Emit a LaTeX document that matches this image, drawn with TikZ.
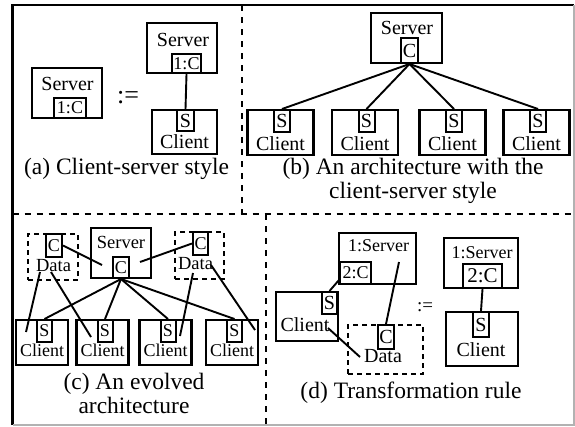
\documentclass[tikz,border=0pt]{standalone}
\usepackage{fontspec}
\setmainfont{Liberation Serif}
\usetikzlibrary{calc,positioning}

\newcommand{\fs}[1]{\fontsize{#1}{#1}\selectfont}

\begin{document}
\begin{tikzpicture}[x=1pt,y=-1pt,
  box/.style={draw,line width=2.4pt,inner sep=0pt},
  dbox/.style={box,line width=2pt,dash pattern=on 5pt off 4pt},
  port/.style={draw,line width=2pt,inner sep=0pt,font=\fs{18}},
  lbl/.style={inner sep=0pt,font=\fs{20}},
  caption/.style={inner sep=0pt,align=center,anchor=base,font=\fontsize{23.5}{23.5}\selectfont},
  wire/.style={line width=1.9pt},
  sep/.style={line width=1.6pt,dash pattern=on 6pt off 6pt}]
\useasboundingbox (0,0) rectangle (575,426);

% Rahmen und Trennlinien
\draw[line width=2.4pt] (12.5,425) -- (12.5,5) -- (574,5);
\draw[gray!60,line width=1.2pt] (574,5) -- (574,425) -- (12.5,425);
\draw[sep] (12.5,214) -- (574,214);
\draw[sep] (242,5) -- (242,214);
\draw[sep] (266,214) -- (266,425);

% (a) Stil-Definition
\node[box,minimum width=70,minimum height=50] (srvA) at (67,93) {};
\node[lbl] at (67.5,83.5) {Server};
\node[port,minimum width=32,minimum height=20] (cA) at (70,108) {1:C};
\node[inner sep=0pt,font=\fs{26}] (defA) at (128,98) {:=};
\node[box,minimum width=70,minimum height=50] (srvB) at (182,48) {};
\node[lbl] at (183,40) {Server};
\node[port,minimum width=29,minimum height=19] (cB) at (186.5,63.5) {1:C};
\node[box,minimum width=65,minimum height=44] (cliB) at (184.5,132) {};
\node[port,font=\fs{20},minimum width=17,minimum height=21] (sB) at (185.5,120.5) {S};
\node[lbl] at (184.5,141.5) {Client};
\draw[wire] (cB.south) -- (sB.north);
\node[caption] (capA) at (126.5,174) {(a) Client-server style};

% (b) Architektur
\node[box,minimum width=71,minimum height=50] (srvC) at (406.5,38) {};
\node[lbl] at (407,27.5) {Server};
\node[port,font=\fs{20},minimum width=17,minimum height=25] (cC) at (409.5,50.5) {C};
\foreach \i/\x in {1/280.5,2/365,3/452.5,4/536.5}{
  \node[box,minimum width=66,minimum height=45] (clB\i) at (\x,132.5) {};
  \node[port,font=\fs{20},minimum width=16,minimum height=22] (sC\i) at (\x+1.5,121) {S};
  \node[lbl] at (\x,144) {Client};
  \draw[wire] (cC.south) -- (sC\i.north);
}
% Grundlinie der letzten Zeile
\node[caption] (capB) at (413,198) {(b) An architecture with the\\client-server style};

% (c) weiterentwickelte Architektur
\node[box,minimum width=60,minimum height=50] (srvD) at (121,253) {};
\node[lbl,font=\fs{18.5}] at (121,242.5) {Server};
\node[port,minimum width=16,minimum height=21] (cD) at (121,267.5) {C};
\node[dbox,minimum width=50,minimum height=46] (datL) at (53,257) {};
\node[port,minimum width=16,minimum height=23] (cL) at (54,245.5) {C};
\node[lbl,font=\fs{18.5}] at (53.5,265.5) {Data};
\node[dbox,minimum width=49,minimum height=47] (datR) at (199.5,255.5) {};
\node[port,minimum width=15,minimum height=23] (cR) at (200.5,243.5) {C};
\node[lbl,font=\fs{18.5}] at (195.5,263.5) {Data};
\foreach \i/\x in {1/42,2/102.5,3/165.5,4/232}{
  \node[box,minimum width=52,minimum height=45] (clC\i) at (\x,342.5) {};
  \node[port,minimum width=15,minimum height=22] (sD\i) at (\x+2.5,331) {S};
  \node[lbl,font=\fs{18}] at (\x,350) {Client};
  \draw[wire] (cD.south) -- (sD\i.north);
}
\coordinate (inL) at (102,265);
\coordinate (inR) at (140,262);
\draw[wire] (cL.east) -- (inL);
\draw[wire] (cR.west) -- (inR);
\draw[wire] (40,272) -- (26,332);
\draw[wire] (51,272) -- (91,337);
\draw[wire] (193,273) -- (180,336);
\draw[wire] (211,265) -- (255,330);
\node[caption] (capC) at (134,413) {(c) An evolved\\architecture};

% (d) Transformationsregel
\node[box,minimum width=77,minimum height=51] (srvE) at (377.5,258.5) {};
\node[lbl,font=\fs{18}] at (378.5,246) {1:Server};
\node[port,minimum width=31,minimum height=22] (cE) at (355.5,273) {2:C};
\node[box,minimum width=62,minimum height=49] (cliE) at (307,316.5) {};
\node[port,font=\fs{20},minimum width=15,minimum height=22] (sE) at (329.5,303) {S};
\node[lbl] at (305,325) {Client};
\node[dbox,minimum width=75,minimum height=49] (datE) at (385.5,349.5) {};
\node[port,font=\fs{20},minimum width=16,minimum height=24] (dE) at (386,337) {C};
\node[lbl] at (383,356.5) {Data};
\coordinate (inE) at (399,262);
\draw[wire] (sE.north) -- ([yshift=5pt]cE.south west);
\draw[wire] (inE) -- (dE.north);
\draw[wire] (328,328) -- (360,357);
\node[inner sep=0pt,font=\fs{19}] (defE) at (425,307.5) {:=};
\node[box,minimum width=74,minimum height=50] (srvF) at (481,263) {};
\node[lbl,font=\fs{18}] at (482,252.5) {1:Server};
\node[port,font=\fs{21},minimum width=39,minimum height=24] (cF) at (482.5,276) {2:C};
\node[box,minimum width=72,minimum height=54] (cliF) at (482,339) {};
\node[port,font=\fs{20},minimum width=16,minimum height=25] (sF) at (481,324.5) {S};
\node[lbl] at (481,350) {Client};
\draw[wire] (cF.south) -- (sF.north);
\node[caption] (capD) at (411,398) {(d) Transformation rule};
\end{tikzpicture}
\end{document}
